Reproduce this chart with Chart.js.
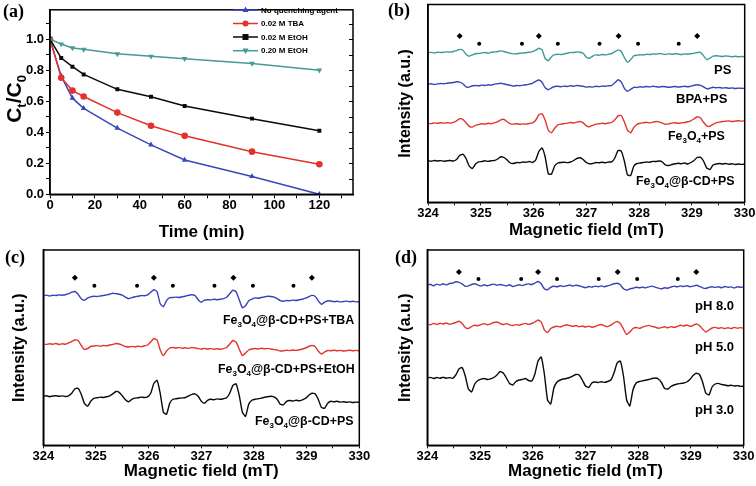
<!DOCTYPE html>
<html>
<head>
<meta charset="utf-8">
<script src="https://cdn.jsdelivr.net/npm/chart.js@4.4.1/dist/chart.umd.min.js"></script>
<style>
  body { margin: 0; background: #fff; }
  #fig { position: relative; width: 756px; height: 486px; overflow: hidden; background: #fff;
         font-family: "Liberation Sans", Arial, sans-serif; }
  .pane { position: absolute; width: 378px; height: 243px; }
  .tag { position: absolute; font-family: "Liberation Serif", "Times New Roman", serif; font-weight: bold;
         font-size: 18px; line-height: 20px; }
  .lbl { position: absolute; font-weight: bold; font-size: 13px; line-height: 16px; white-space: nowrap; color: #000; }
  .lbl.fe { font-size: 12.4px; }
  .lbl sub { font-size: 8px; line-height: 0; vertical-align: -3px; }
</style>
</head>
<body>
<div id="fig">
  <div class="pane" style="left:0;top:0"><canvas id="chartA" width="378" height="243"></canvas></div>
  <div class="pane" style="left:378px;top:0"><canvas id="chartB" width="378" height="243"></canvas></div>
  <div class="pane" style="left:0;top:243px"><canvas id="chartC" width="378" height="243"></canvas></div>
  <div class="pane" style="left:378px;top:243px"><canvas id="chartD" width="378" height="243"></canvas></div>

  <div class="tag" style="left:3px;top:1px">(a)</div>
  <div class="tag" style="left:388px;top:0px">(b)</div>
  <div class="tag" style="left:5px;top:247px">(c)</div>
  <div class="tag" style="left:395px;top:247px">(d)</div>

  <div class="lbl" style="left:714px;top:62px">PS</div>
  <div class="lbl" style="left:676px;top:91px">BPA+PS</div>
  <div class="lbl fe" style="left:668px;top:128px">Fe<sub>3</sub>O<sub>4</sub>+PS</div>
  <div class="lbl fe" style="left:636px;top:173px">Fe<sub>3</sub>O<sub>4</sub>@β-CD+PS</div>

  <div class="lbl fe" style="left:223px;top:312px">Fe<sub>3</sub>O<sub>4</sub>@β-CD+PS+TBA</div>
  <div class="lbl fe" style="left:218px;top:361px">Fe<sub>3</sub>O<sub>4</sub>@β-CD+PS+EtOH</div>
  <div class="lbl fe" style="left:255px;top:413px">Fe<sub>3</sub>O<sub>4</sub>@β-CD+PS</div>

  <div class="lbl" style="left:695px;top:298px">pH 8.0</div>
  <div class="lbl" style="left:695px;top:339px">pH 5.0</div>
  <div class="lbl" style="left:695px;top:402px">pH 3.0</div>
</div>

<script>
// (a) degradation with quenchers
var times = [0, 5, 10, 15, 30, 45, 60, 90, 120]
var noQuench = [1.0, 0.762, 0.62, 0.554, 0.427, 0.319, 0.221, 0.115, 0.0]
var tba002 = [1.0, 0.752, 0.669, 0.631, 0.527, 0.442, 0.377, 0.275, 0.194]
var etoh002 = [1.0, 0.879, 0.823, 0.773, 0.677, 0.629, 0.569, 0.488, 0.41]
var etoh020 = [1.0, 0.969, 0.944, 0.935, 0.906, 0.89, 0.875, 0.844, 0.8]

// EPR spectra: field grid (mT) and signal relative to each baseline
var fields = [
  324.00, 324.06, 324.12, 324.18, 324.24, 324.30, 324.36, 324.42, 324.48, 324.54,
  324.60, 324.66, 324.72, 324.78, 324.84, 324.90, 324.96, 325.02, 325.08, 325.14,
  325.20, 325.26, 325.32, 325.38, 325.44, 325.50, 325.56, 325.62, 325.68, 325.74,
  325.80, 325.86, 325.92, 325.98, 326.04, 326.10, 326.16, 326.22, 326.28, 326.34,
  326.40, 326.46, 326.52, 326.58, 326.64, 326.70, 326.76, 326.82, 326.88, 326.94,
  327.00, 327.06, 327.12, 327.18, 327.24, 327.30, 327.36, 327.42, 327.48, 327.54,
  327.60, 327.66, 327.72, 327.78, 327.84, 327.90, 327.96, 328.02, 328.08, 328.14,
  328.20, 328.26, 328.32, 328.38, 328.44, 328.50, 328.56, 328.62, 328.68, 328.74,
  328.80, 328.86, 328.92, 328.98, 329.04, 329.10, 329.16, 329.22, 329.28, 329.34,
  329.40, 329.46, 329.52, 329.58, 329.64, 329.70, 329.76, 329.82, 329.88, 329.94,
  330.00]

var psB = [
  0, 0.3, -0.3, 0.4, 0.2, 0.5, 0.8, 0.6, 1.2, 2,
  3.3, 2.5, -1.5, -3.5, -2.2, -1, -0.8, -0.3, 0.2, -0.4,
  0.5, 0.8, 1.2, 1.8, 1.2, 0.2, -0.5, -1.2, -1, -0.6,
  -0.3, 0, 0.5, 1, 2.5, 4.5, 3, -6, -8, -4,
  -2, -1.5, -1.8, -1.2, -0.5, 0.3, 0.2, 0.8, 0.4, -0.5,
  -4.5, -5.5, -3.5, -2.2, -2.5, -1.8, -2.2, -1.5, -0.8, 1,
  2.8, 1.5, -5, -9.5, -7, -3, -2.5, -2, -2.3, -1.5,
  -1.8, -1.2, -1.5, -0.8, -1.3, -1.8, -1.2, -1.5, -1, -1.4,
  -1.8, -1.2, -1.5, -1, -0.5, 0.2, 0.3, -3, -7, -5.5,
  -3.5, -3, -3.4, -3.8, -3.2, -3.6, -4, -3.5, -4, -3.8,
  -4]
var bpaPsB = [
  0, 0.5, -0.3, 0.4, 0.8, 0.5, 1, 1.5, 1.8, 2.5,
  2.2, 0.5, -2.5, -2.8, -1.5, -1.2, -1.5, -0.8, -1.2, -0.5,
  -0.8, 0.2, 0.5, 1, 0.3, -0.5, -1, -1.8, -1.2, -1.5,
  -0.8, -0.5, 0.2, 1, 3, 4.3, 2, -3.5, -5.5, -3.5,
  -2.2, -2, -2.4, -1.8, -2.2, -1.5, -1.9, -1.2, -1.6, -2,
  -2.8, -2.4, -2.8, -2, -2.3, -1.8, -2, -1.5, -1, 1.5,
  4.5, 2.5, -4, -7, -5, -3, -3.2, -2.5, -2.8, -2.2,
  -2.6, -2, -2.4, -2.8, -2.2, -2.5, -3, -2.6, -2.2, -2.8,
  -2.4, -2, -2.5, -1.8, -1, -0.5, -1, -2.5, -4.5, -4,
  -3, -3.5, -3.2, -3.8, -3.4, -4, -3.6, -4.2, -3.8, -4,
  -4.2]
var fePsB = [
  0, -0.3, 0.4, 0, 0.5, 0.2, 0.6, 0.3, 1, 2.5,
  4.5, 4, 0.5, -3, -3.8, -2, -1.2, -0.5, -0.8, 0,
  -0.4, 0.5, 1.5, 3.5, 4, 1.5, -0.5, -0.8, -0.5, -1,
  -0.6, -0.8, -0.2, 0.5, 3, 8.5, 9.5, 3, -7, -9.5,
  -5, -1.5, -0.8, -0.3, 0.2, 0.8, 0.3, 1.2, 1.8, 0.5,
  -2.5, -3.5, -2, -0.8, -0.5, 0, -0.4, 0.3, 0.8, 3.5,
  7.5, 7.8, 1.5, -7, -9.5, -4, -1, 0, 0.5, 1,
  0.4, 1.2, 1.8, 1.4, 0.2, -1, -0.6, 0.2, 0.5, 0,
  0.4, 0.8, 1.5, 2.5, 4.5, 6.5, 5.5, 1, -2.5, -3,
  -1, 0.5, 1.2, 1.8, 2, 2.4, 1.8, 2.2, 2.6, 2.2,
  2.5]
var cdPsB = [
  0.3, -0.2, 0.5, 0, 0.4, -0.3, 0.2, 0.5, 0, 1.5,
  5.5, 6.8, 2.5, -5, -7.5, -3, -0.8, -0.5, 0.2, -0.4,
  0.3, 0.5, 2, 4.2, 3.5, 1, -2, -2.5, -1.5, -1.8,
  -1, -1.2, -0.5, -1.5, 1, 9.5, 13, 4, -13, -13,
  -5, -2, -1.5, -1.2, -1.6, -1, 0.5, 2.5, 3.2, 1.5,
  -1.5, -2.8, -2.5, -1.5, -1.8, -1.2, -1.8, -1, -0.8, 3,
  10.5, 10, 0, -14, -14.5, -5, -2.5, -2, -1.5, -1,
  -1.2, -0.4, -0.5, 0, -1, -4, -4.5, -3.5, -2.8, -2.2,
  -2.8, -2, -3, -1.5, 0.5, 3.5, 3.8, 0, -7, -8.5,
  -4, -3, -2.5, -3, -2.5, -3.2, -2.8, -3.5, -3, -3.4,
  -3.2]

var tbaC = [
  0, 0.6, -0.3, 0.4, 0.2, 0.8, 0.5, 1, 2, 3.5,
  4.2, 1.5, -3, -4.5, -2.5, -1.2, -0.6, -0.8, -0.3, 0.2,
  0.8, 1.5, 2.5, 2, 1.5, 0.5, -1.5, -3, -2, -1,
  -0.5, 0.2, 0, 0.8, 3.5, 6, 4, -8, -11, -5,
  -2, -1.8, -1.4, -1.8, -1, -0.5, 0.5, 1, 0.2, -4,
  -6.5, -4.5, -4, -4.2, -3.5, -4, -3.6, -3, -1.5, 2,
  5.5, 4, -4, -12, -10, -5, -3.5, -2.2, -2.5, -1.8,
  -1.2, -0.6, -0.8, -1.5, -3, -5, -5.5, -4.8, -5, -4.4,
  -4.8, -4, -3.5, -2.5, -1, 0.3, -0.5, -5, -8.5, -6.5,
  -5, -5.4, -6, -5.5, -6.2, -5.8, -5.4, -6, -5.6, -6.2,
  -6]
var etohC = [
  0, -0.4, 0.3, -0.2, 0.5, -0.5, 0.2, -0.3, 1, 2.5,
  4, 3.5, -1.5, -5.5, -4.5, -2.5, -2, -1.6, -2.2, -1.5,
  -1.8, -1, -0.4, 0.5, 0, -1.2, -2.5, -3, -2.4, -2.8,
  -2.2, -2.6, -1.8, -1, 2, 5.5, 4, -6, -11.5, -7,
  -4, -3.5, -4, -3.6, -4.2, -3.8, -4.4, -3.5, -4, -4.6,
  -5, -4.4, -5, -4.6, -5.2, -4.8, -5.3, -4.6, -3.5, 0,
  3.5, 2, -5, -11.5, -9, -6, -5, -4.5, -5, -4.2,
  -4.8, -4.4, -5, -5.5, -6, -7, -6.8, -6.2, -6.6, -6,
  -6.4, -5.8, -5, -4, -2.5, -1.5, -2.5, -7, -10, -8,
  -6.5, -6.8, -6.2, -6.8, -6.4, -7, -6.6, -6.2, -6.8, -6.4,
  -6.8]
var cdPsC = [
  0, 0.5, -0.4, 0.3, 0.6, 0, 0.4, -0.2, 0.5, 3,
  7.5, 8, 2, -7, -10, -5, -2, -1.5, -0.8, -1.2,
  -0.5, 0.5, 2.5, 4.8, 4, 0.5, -3.5, -5.5, -3, -1.8,
  -1.4, -0.8, -1.2, -0.5, 3, 13, 16, 3, -16, -18,
  -7, -3, -2.5, -2, -1.6, -1.2, 0.5, 2, 2.5, 0,
  -5, -7, -4, -3, -3.5, -2.6, -3, -2.4, -1.5, 3,
  11, 12.5, 1, -16, -20, -8, -4, -3, -2.4, -1.8,
  -1, -0.4, 0, -0.5, -3, -8, -8.5, -5, -4.2, -4.8,
  -4, -4.5, -3.5, -2, 1, 3, 2.5, -3, -11, -12,
  -7, -5, -5.5, -5, -5.8, -5.4, -6, -5.6, -6.2, -5.8,
  -6]

var ph8D = [
  0, 1, -0.5, 1.2, 0.3, 1.5, 0.4, 1.8, 2.2, 3.5,
  3, 1.5, -1, -0.5, 0.8, 1.5, 0.2, -0.8, 0.5, -0.5,
  0.6, 1.2, 0, 0.8, 0.2, -0.6, 0.5, -1.2, -0.4, 0.6,
  -0.3, 0.8, 1.4, 0.6, 2.2, 3.8, 1.5, -3.5, -4.5, -2,
  -1, -1.5, -0.4, -1.2, -0.5, 0.3, -0.8, 0, -0.5, -1.5,
  -2.5, -1.2, -1.8, -0.8, -1.4, -0.6, -1.5, -0.5, 0.5, 1.5,
  2, 0.5, -3.5, -4.8, -3.5, -3, -2, -2.5, -1.8, -2.6,
  -1.5, -0.8, -1.8, -2.8, -3.5, -2.4, -3, -1.8, -0.8, -1.6,
  -0.6, -1.2, -0.5, -1.4, -0.8, 0, -1, -2.5, -3.2, -2,
  -1.4, -2.2, -1.5, -2.4, -1.2, -2, -1.6, -2.6, -1.4, -2,
  -1.8]
var ph5D = [
  0, -0.8, 0.6, -0.5, 0.8, 0, 1, -0.3, 0.5, 1.5,
  2.8, 0.5, -3.5, -4.5, -2.5, -1.2, -1.8, -0.6, 0.4, -0.8,
  0.2, 1.5, 2, 0.5, -0.5, 0.4, -0.8, -1.5, -0.6, -1.2,
  -0.2, 0.6, -0.4, 0.5, 2, 4, 2, -6, -8.5, -4.5,
  -3, -2.2, -3, -1.8, -0.8, -1.6, -2.4, -1.5, -2.8, -2,
  -3, -2.2, -3.2, -2.5, -1.2, -0.5, -1.8, -2.6, -1.2, 1,
  2.5, 0.5, -5, -10.5, -8, -4.5, -3.5, -4.4, -3.2, -2.2,
  -1.4, -2.4, -3.2, -4.2, -3.6, -2.8, -3.8, -2.6, -3.4, -2.4,
  -1.2, -2, -1, -2.4, -1.5, 0, -1.5, -5, -8, -6,
  -4, -3.4, -4.4, -3.6, -4.6, -3.8, -4.6, -3.4, -4.2, -3.6,
  -4.2]
var ph3D = [
  0, 0.6, -0.5, 0.5, -0.3, 0.8, -0.2, 0.4, -0.3, 3,
  9, 10.5, 2, -11, -14, -6, -2.5, -1.2, -0.5, -1.5,
  -0.8, 0.5, 3, 6.5, 5, 0, -5.5, -7, -3.5, -2,
  -1.5, -0.5, -2.5, -3, 4, 17, 21, 4, -22, -26,
  -10, -4, -2, -1, -0.5, 0.5, 2, 3.5, 3, -2,
  -8, -9.5, -5, -4, -4.6, -3.8, -4.4, -3.5, -2, 5,
  15, 17, 2, -22, -28, -12, -5, -3.5, -2.8, -2.2,
  -1.5, -0.5, 0, -1, -4.5, -10.5, -11, -8.5, -7, -6,
  -5.5, -5, -4, -1.5, 2.5, 4.8, 3.5, -4, -15, -17,
  -9, -6, -5.4, -6.5, -7, -7.8, -7.2, -8, -7.6, -8.4,
  -8.2]

// peak markers: ◆ DMPO-OH, ● DMPO-SO4
var ohPeaks = [324.6, 326.1, 327.61, 329.1]
var so4Peaks = [324.97, 325.78, 326.46, 327.25, 327.98, 328.75]

// stacking baselines of each panel (same units as its y axis)
var baseB = [149.6, 118, 79, 41.3]
var baseC = [149.6, 101.3, 49]
var baseD = [160, 121.3, 67.3]
var markB = [166.3, 158.6]
var markC = [167.6, 159.6]
var markD = [173.3, 166.3]

var FONT = "'Liberation Sans', Arial, sans-serif"
var tickFont = { family: FONT, size: 13, weight: "bold" }

var framePlugin = {
  id: "frame",
  afterDraw: function (chart) {
    var a = chart.chartArea
    var ctx = chart.ctx
    ctx.save()
    ctx.strokeStyle = "#000"
    ctx.lineWidth = 1.5
    ctx.strokeRect(a.left, a.top, a.right - a.left, a.bottom - a.top)
    ctx.restore()
  },
}

// mirrored tick marks on the right edge of (a)
var rightTicks = {
  id: "rightTicks",
  afterDraw: function (chart) {
    var a = chart.chartArea
    var y = chart.scales.y
    var ctx = chart.ctx
    ctx.save()
    ctx.strokeStyle = "#000"
    ctx.lineWidth = 1
    y.ticks.forEach(function (t) {
      var py = Math.round(y.getPixelForValue(t.value)) + 0.5
      ctx.beginPath(); ctx.moveTo(a.right, py); ctx.lineTo(a.right - 4, py); ctx.stroke()
    })
    ctx.restore()
  },
}

function drawMarker(ctx, style, x, y, r, color) {
  ctx.fillStyle = color
  ctx.beginPath()
  if (style === "circle") {
    ctx.arc(x, y, r, 0, Math.PI * 2)
  } else if (style === "rect") {
    ctx.rect(x - r, y - r, 2 * r, 2 * r)
  } else if (style === "up") {
    ctx.moveTo(x, y - r * 1.15); ctx.lineTo(x + r, y + r * 0.7); ctx.lineTo(x - r, y + r * 0.7)
  } else {
    ctx.moveTo(x, y + r * 1.15); ctx.lineTo(x + r, y - r * 0.7); ctx.lineTo(x - r, y - r * 0.7)
  }
  ctx.closePath()
  ctx.fill()
}

// legend of (a): line with marker and bold label
var seriesA = [
  { label: "No quenching agent", data: noQuench, color: "#3A47BC", marker: "up", style: "triangle", rot: 0 },
  { label: "0.02 M TBA", data: tba002, color: "#E2322C", marker: "circle", style: "circle", rot: 0 },
  { label: "0.02 M EtOH", data: etoh002, color: "#0a0a0a", marker: "rect", style: "rect", rot: 0 },
  { label: "0.20 M EtOH", data: etoh020, color: "#479A95", marker: "down", style: "triangle", rot: 180 },
]

var legendA = {
  id: "legendA",
  afterDraw: function (chart) {
    var ctx = chart.ctx
    var rowsY = [10, 23.5, 37, 50.7]
    ctx.save()
    seriesA.forEach(function (s, i) {
      var y = rowsY[i]
      ctx.strokeStyle = s.color
      ctx.lineWidth = 1.5
      ctx.beginPath(); ctx.moveTo(233, y); ctx.lineTo(258, y); ctx.stroke()
      drawMarker(ctx, s.marker, 245.5, y, 3, s.color)
      ctx.fillStyle = "#000"
      ctx.font = "bold 8px " + FONT
      ctx.textBaseline = "middle"
      ctx.fillText(s.label, 261, y + 0.5)
    })
    ctx.restore()
  },
}

// C_t/C_0 axis title with subscripts
var yTitleA = {
  id: "yTitleA",
  afterDraw: function (chart) {
    var ctx = chart.ctx
    var parts = [["C", 21, 0], ["t", 13, 5], ["/C", 21, 0], ["0", 13, 5]]
    ctx.save()
    ctx.translate(14, 99)
    ctx.rotate(-Math.PI / 2)
    ctx.fillStyle = "#000"
    ctx.textBaseline = "alphabetic"
    var total = 0
    parts.forEach(function (p) { ctx.font = "bold " + p[1] + "px " + FONT; total += ctx.measureText(p[0]).width })
    var x = -total / 2
    parts.forEach(function (p) {
      ctx.font = "bold " + p[1] + "px " + FONT
      ctx.fillText(p[0], x, 7 + p[2])
      x += ctx.measureText(p[0]).width
    })
    ctx.restore()
  },
}

var chartA = new Chart(document.getElementById("chartA"), {
  type: "line",
  data: {
    datasets: seriesA.slice().reverse().map(function (s) {
      return {
        label: s.label,
        data: times.map(function (t, i) { return { x: t, y: s.data[i] } }),
        borderColor: s.color,
        backgroundColor: s.color,
        borderWidth: 1.5,
        pointStyle: s.style,
        pointRotation: s.rot,
        pointRadius: s.style === "rect" ? 2.8 : 3.3,
        pointBorderWidth: 0,
        tension: 0,
      }
    }),
  },
  options: {
    responsive: false,
    animation: false,
    layout: { padding: { left: 0, right: 25, top: 4.5, bottom: 0 } },
    plugins: { legend: { display: false }, tooltip: { enabled: false } },
    scales: {
      x: {
        type: "linear",
        min: 0,
        max: 135,
        ticks: {
          stepSize: 10, includeBounds: false, autoSkip: false, maxRotation: 0, color: "#000", font: tickFont, padding: -1,
          callback: function (v) { return v % 20 === 0 ? v : "" },
        },
        grid: { drawOnChartArea: false, color: "#000", tickLength: 4 },
        border: { color: "#000", width: 1.5 },
        title: { display: true, text: "Time (min)", color: "#000", font: { family: FONT, size: 17, weight: "bold" }, padding: { top: 0, bottom: 0 } },
        afterFit: function (s) { s.height = 48.7 },
      },
      y: {
        min: 0,
        max: 1.19,
        ticks: {
          stepSize: 0.1, includeBounds: false, autoSkip: false, color: "#000", font: tickFont, padding: 2,
          callback: function (v) { return Math.round(v * 10) % 2 === 0 ? v.toFixed(1) : "" },
        },
        grid: { drawOnChartArea: false, color: "#000", tickLength: 4 },
        border: { color: "#000", width: 1.5 },
        afterFit: function (s) { s.width = 50 },
      },
    },
  },
  plugins: [framePlugin, rightTicks, legendA, yTitleA],
})

// one EPR panel
function eprChart(id, traces, colors, bases, marks, yMax, box) {
  var datasets = traces.map(function (tr, k) {
    return {
      data: fields.map(function (f, i) { return { x: f, y: bases[k] + tr[i] } }),
      borderColor: colors[k],
      borderWidth: 1.4,
      pointRadius: 0,
      tension: 0.15,
    }
  })
  datasets.push({
    data: ohPeaks.map(function (f) { return { x: f, y: marks[0] } }),
    showLine: false, pointStyle: "rectRot", pointRadius: 3, pointBorderWidth: 0, backgroundColor: "#000",
  })
  datasets.push({
    data: so4Peaks.map(function (f) { return { x: f, y: marks[1] } }),
    showLine: false, pointStyle: "circle", pointRadius: 2, pointBorderWidth: 0, backgroundColor: "#000",
  })
  return new Chart(document.getElementById(id), {
    type: "line",
    data: { datasets: datasets },
    options: {
      responsive: false,
      animation: false,
      layout: { padding: { left: 0, right: box.right, top: box.top, bottom: 0 } },
      plugins: { legend: { display: false }, tooltip: { enabled: false } },
      scales: {
        x: {
          type: "linear",
          min: 324,
          max: 330,
          ticks: {
            stepSize: 0.5, autoSkip: false, maxRotation: 0, color: "#000", font: tickFont, padding: 0,
            callback: function (v) { return Number.isInteger(v) ? v : "" },
          },
          grid: { drawOnChartArea: false, color: "#000", tickLength: 3 },
          border: { color: "#000", width: 1.5 },
          title: { display: true, text: "Magnetic field (mT)", color: "#000", font: { family: FONT, size: 17, weight: "bold" }, padding: { top: 0, bottom: box.xPad } },
          afterFit: function (s) { s.height = 40.7 },
        },
        y: {
          min: 0,
          max: yMax,
          ticks: { display: false },
          grid: { display: false },
          border: { color: "#000", width: 1.5 },
          title: { display: true, text: "Intensity (a.u.)", color: "#000", font: { family: FONT, size: 16, weight: "bold" }, padding: { top: box.yPad, bottom: 0 } },
          afterFit: function (s) { s.width = box.left },
        },
      },
    },
    plugins: [framePlugin],
  })
}

var chartB = eprChart("chartB", [psB, bpaPsB, fePsB, cdPsB], ["#3E9A94", "#3A41B6", "#E2352F", "#0a0a0a"],
  baseB, markB, 197.8, { left: 50, right: 11.3, top: 4.5, xPad: 2, yPad: 18 })
var chartC = eprChart("chartC", [tbaC, etohC, cdPsC], ["#3A41B6", "#E2352F", "#0a0a0a"],
  baseC, markC, 195.3, { left: 43.3, right: 18.7, top: 7, xPad: 4, yPad: 10 })
var chartD = eprChart("chartD", [ph8D, ph5D, ph3D], ["#3A41B6", "#E2352F", "#0a0a0a"],
  baseD, markD, 195.3, { left: 49.3, right: 12.3, top: 7, xPad: 4, yPad: 18 })
</script>
</body>
</html>
